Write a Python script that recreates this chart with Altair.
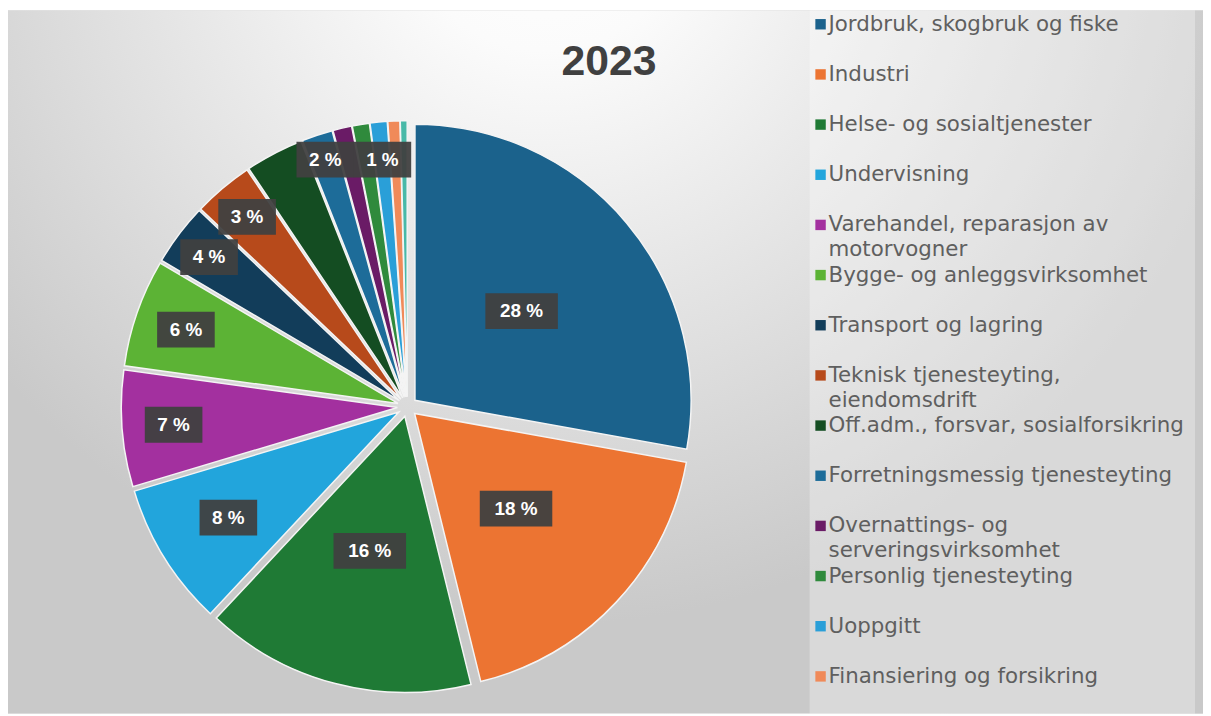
import altair as alt
import pandas as pd

# ---- data ----
categories = [
    "Jordbruk, skogbruk og fiske",
    "Industri",
    "Helse- og sosialtjenester",
    "Undervisning",
    "Varehandel, reparasjon av\nmotorvogner",
    "Bygge- og anleggsvirksomhet",
    "Transport og lagring",
    "Teknisk tjenesteyting,\neiendomsdrift",
    "Off.adm., forsvar, sosialforsikring",
    "Forretningsmessig tjenesteyting",
    "Overnattings- og\nserveringsvirksomhet",
    "Personlig tjenesteyting",
    "Uoppgitt",
    "Finansiering og forsikring",
    "Elektrisitet, vann og renovasjon",
]
shares = [27.8, 18.3, 15.8, 8.4, 6.8, 6.3, 3.6, 3.5, 3.4, 1.8, 1.1, 1.0, 1.0, 0.7, 0.4]
labels = ["28 %", "18 %", "16 %", "8 %", "7 %", "6 %", "4 %", "3 %", "", "2 %", "", "", "1 %", "", ""]
colors = ["#1b628c", "#ec7432", "#1f7a35", "#22a5dc", "#a3309f", "#5cb335", "#123d5a",
          "#b74a1b", "#144d22", "#1d6c99", "#6a1b66", "#2f8a3c", "#2a9fd8", "#f08a59", "#48b9a8"]
legend_count = 14  # entries visible in the legend of the picture
title_text = ["2023"]

# ---- layout constants ----
W, H = 1203, 708
CX, CY, R, D = 402, 399, 278, 10

df = pd.DataFrame({"cat": categories, "share": shares, "label": labels,
                   "idx": list(range(len(categories)))})

color = alt.Color("cat:N", scale=alt.Scale(domain=categories, range=colors), legend=None)

base = (
    alt.Chart(df)
    .transform_joinaggregate(total="sum(share)")
    .transform_window(cum="sum(share)", sort=[alt.SortField("idx", order="ascending")], frame=[None, 0])
    .transform_calculate(a0="(datum.cum - datum.share) / datum.total * 2 * PI")
    .transform_calculate(a1="datum.cum / datum.total * 2 * PI")
    .transform_calculate(mid="(datum.a0 + datum.a1) / 2")
    .transform_calculate(cx=f"{CX} + {D} * sin(datum.mid)")
    .transform_calculate(cy=f"{CY} - {D} * cos(datum.mid)")
)

arcs = base.mark_arc(outerRadius=R, stroke="#f4f4f4", strokeWidth=1.5).encode(
    theta=alt.Theta("a0:Q", scale=None),
    theta2=alt.Theta2("a1:Q"),
    x=alt.X("cx:Q", scale=None),
    y=alt.Y("cy:Q", scale=None),
    color=color,
)

lab = (
    base.transform_filter("datum.label != ''")
    .transform_calculate(lr="datum.share >= 10 ? 150 : (datum.share >= 8 ? 212 : (datum.share >= 5 ? 236 : ((datum.share < 3 && datum.share >= 1.5) ? 262 : 250)))")
    .transform_calculate(lx=f"{CX} + datum.lr * sin(datum.mid)")
    .transform_calculate(ly=f"{CY} - datum.lr * cos(datum.mid)")
    .transform_calculate(bw="length(datum.label) > 3 ? 73 : 58")
    .transform_calculate(bx0="datum.lx - datum.bw / 2")
    .transform_calculate(bx1="datum.lx + datum.bw / 2")
    .transform_calculate(by0="datum.ly - 18")
    .transform_calculate(by1="datum.ly + 18")
)

boxes = lab.mark_rect(fill="#404040", opacity=0.95).encode(
    x=alt.X("bx0:Q", scale=None), x2="bx1:Q",
    y=alt.Y("by0:Q", scale=None), y2="by1:Q",
)
texts = lab.mark_text(color="white", fontSize=19, fontWeight="bold", font="Liberation Sans").encode(
    x=alt.X("lx:Q", scale=None), y=alt.Y("ly:Q", scale=None), text="label:N"
)

# background with radial gradient
bg = alt.Chart(pd.DataFrame({"k": [0]})).mark_rect(
    fill=alt.RadialGradient(
        gradient="radial",
        stops=[alt.GradientStop(offset=0, color="#ffffff"),
               alt.GradientStop(offset=0.2, color="#fbfbfb"),
               alt.GradientStop(offset=1, color="#c9c9c9")],
        x1=0.45, y1=0.12, r1=0, x2=0.45, y2=0.12, r2=0.6,
    )
).encode(x=alt.value(0), x2=alt.value(W), y=alt.value(0), y2=alt.value(H))

panel = alt.Chart(pd.DataFrame({"k": [0]})).mark_rect(fill="white", opacity=0.3).encode(
    x=alt.value(807), x2=alt.value(1195), y=alt.value(0), y2=alt.value(H)
)

title = alt.Chart(pd.DataFrame({"t": title_text})).mark_text(
    fontSize=43, fontWeight="bold", font="Liberation Sans", color="#404040"
).encode(x=alt.value(605), y=alt.value(52), text="t:N")

leg = alt.Chart(df).transform_filter(f"datum.idx < {legend_count}").transform_calculate(ly="14 + datum.idx * 50.5")
sym = leg.mark_square(size=110, opacity=1, filled=True).encode(
    x=alt.value(818), y=alt.Y("ly:Q", scale=None), color=color
)
ltxt = leg.mark_text(
    align="left", baseline="line-top", dy=-12.5, lineBreak="\n", lineHeight=25,
    fontSize=21.5, font="DejaVu Sans", color="#5f5f5f"
).encode(x=alt.value(826), y=alt.Y("ly:Q", scale=None), text="cat:N")

chart = (
    alt.layer(bg, panel, arcs, boxes, texts, title, sym, ltxt)
    .properties(width=W, height=H, padding=0, autosize=alt.AutoSizeParams(type="none"))
    .configure_view(strokeWidth=0)
)

chart.save("out.html", embed_options={"renderer": "svg", "actions": False})
